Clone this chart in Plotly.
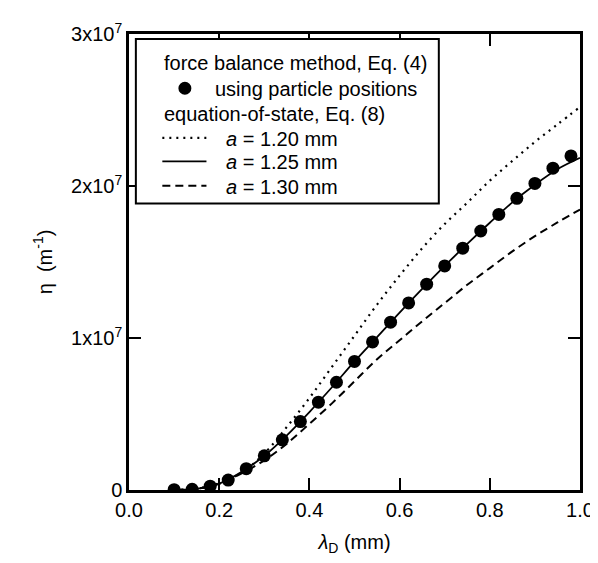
import plotly.graph_objects as go

# ---- data ----
dot_x = [0.10, 0.14, 0.18, 0.22, 0.26, 0.30, 0.34, 0.38, 0.42, 0.46, 0.50, 0.54,
         0.58, 0.62, 0.66, 0.70, 0.74, 0.78, 0.82, 0.86, 0.90, 0.94, 0.98]
dot_y = [0.02e6, 0.05e6, 0.25e6, 0.65e6, 1.40e6, 2.25e6, 3.30e6, 4.50e6, 5.78e6, 7.09e6,
         8.46e6, 9.74e6, 11.04e6, 12.31e6, 13.54e6, 14.74e6, 15.91e6, 17.04e6, 18.13e6,
         19.19e6, 20.17e6, 21.17e6, 21.98e6]

line_x = [0.10, 0.15, 0.20, 0.25, 0.30, 0.35, 0.40, 0.45, 0.50, 0.55, 0.60, 0.65,
          0.70, 0.75, 0.80, 0.85, 0.90, 0.95, 1.00]
a120_y = [0.02e6, 0.10e6, 0.45e6, 1.15e6, 2.40e6, 4.15e6, 6.05e6, 8.10e6, 10.15e6, 12.2e6,
          14.1e6, 15.9e6, 17.5e6, 18.9e6, 20.35e6, 21.65e6, 22.9e6, 24.05e6, 25.2e6]
a125_y = [0.02e6, 0.08e6, 0.42e6, 1.20e6, 2.25e6, 3.60e6, 5.13e6, 6.76e6, 8.46e6, 10.06e6,
          11.67e6, 13.23e6, 14.74e6, 16.19e6, 17.58e6, 18.92e6, 20.08e6, 21.1e6, 21.85e6]
a130_y = [0.02e6, 0.08e6, 0.40e6, 1.10e6, 1.95e6, 3.05e6, 4.35e6, 5.70e6, 7.15e6, 8.60e6,
          9.85e6, 11.1e6, 12.3e6, 13.5e6, 14.6e6, 15.7e6, 16.7e6, 17.6e6, 18.45e6]

y_tickvals = [0, 1e7, 2e7, 3e7]
y_ticktext = ["0", "1x10<sup>7</sup>", "2x10<sup>7</sup>", "3x10<sup>7</sup>"]
x_tickvals = [0.0, 0.2, 0.4, 0.6, 0.8, 1.0]
x_ticktext = ["0.0", "0.2", "0.4", "0.6", "0.8", "1.0"]

legend_lines = [
    "force balance method, Eq. (4)",
    "using particle positions",
    "equation-of-state, Eq. (8)",
    "<i>a</i> = 1.20 mm",
    "<i>a</i> = 1.25 mm",
    "<i>a</i> = 1.30 mm",
]

FONT = "Liberation Sans, Arial, sans-serif"
W, H = 598, 563
L, R, T, B = 121, 17, 22, 81
PW, PH = W - L - R, H - T - B

def px(x):
    return (x - L) / PW

def py(y):
    return (H - B - y) / PH

fig = go.Figure()
fig.add_trace(go.Scatter(x=line_x, y=a120_y, mode="lines", line_shape="spline",
                         line=dict(color="black", width=2.2, dash="2px,5px"), showlegend=False))
fig.add_trace(go.Scatter(x=line_x, y=a125_y, mode="lines", line_shape="spline",
                         line=dict(color="black", width=1.8), showlegend=False))
fig.add_trace(go.Scatter(x=line_x, y=a130_y, mode="lines", line_shape="spline",
                         line=dict(color="black", width=2, dash="8px,5px"), showlegend=False))
fig.add_trace(go.Scatter(x=dot_x, y=dot_y, mode="markers",
                         marker=dict(color="black", size=13), showlegend=False))

axis_common = dict(showline=True, linecolor="black", linewidth=2.5, mirror="ticks",
                   ticks="inside", ticklen=12, tickwidth=2, tickcolor="black",
                   showgrid=False, zeroline=False,
                   tickfont=dict(family=FONT, size=20, color="black"))

fig.update_xaxes(range=[0, 1], tickvals=x_tickvals, ticktext=x_ticktext,
                 title=dict(text="<i>λ</i><sub>D</sub> (mm)", font=dict(family=FONT, size=20, color="black"), standoff=16),
                 **axis_common)
fig.update_yaxes(range=[0, 3e7], tickvals=y_tickvals, ticktext=y_ticktext,
                 title=dict(text="η  (m<sup>-1</sup>)", font=dict(family=FONT, size=20, color="black"), standoff=14),
                 **axis_common)

# legend box
shapes = [dict(type="rect", xref="paper", yref="paper", x0=px(128), x1=px(437), y0=py(193), y1=py(27),
               line=dict(color="black", width=2), fillcolor="white", layer="above")]
rows_y = [50.7, 76.7, 101.7, 126.7, 150.5, 175]
# sample lines
shapes.append(dict(type="line", xref="paper", yref="paper", x0=px(155), x1=px(200), y0=py(rows_y[3]), y1=py(rows_y[3]),
                   line=dict(color="black", width=2.2, dash="2px,5px"), layer="above"))
shapes.append(dict(type="line", xref="paper", yref="paper", x0=px(155), x1=px(200), y0=py(rows_y[4]), y1=py(rows_y[4]),
                   line=dict(color="black", width=1.8), layer="above"))
shapes.append(dict(type="line", xref="paper", yref="paper", x0=px(155), x1=px(200), y0=py(rows_y[5]), y1=py(rows_y[5]),
                   line=dict(color="black", width=2, dash="8px,5px"), layer="above"))
shapes.append(dict(type="circle", xref="paper", yref="paper", xsizemode="pixel", ysizemode="pixel",
                   xanchor=px(178), yanchor=py(rows_y[1]), x0=-6.5, x1=6.5, y0=-6.5, y1=6.5,
                   fillcolor="black", line=dict(color="black", width=0), layer="above"))

ann = []
text_x = [155, 207, 155, 218, 218, 218]
for t, xx, yy in zip(legend_lines, text_x, rows_y):
    ann.append(dict(text=t, xref="paper", yref="paper", x=px(xx), y=py(yy + 1), xanchor="left",
                    yanchor="middle", showarrow=False, font=dict(family=FONT, size=20, color="black")))

fig.update_layout(width=W, height=H, margin=dict(l=L, r=R, t=T, b=B),
                  paper_bgcolor="white", plot_bgcolor="white",
                  shapes=shapes, annotations=ann, showlegend=False)

fig.write_html("out.html")
